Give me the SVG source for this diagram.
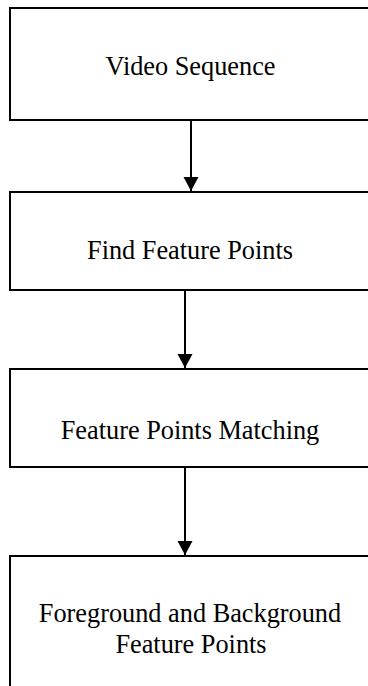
<svg xmlns="http://www.w3.org/2000/svg" width="368" height="686" viewBox="0 0 368 686">
<style>
.box{fill:#fff;stroke:#000;stroke-width:2}
.lbl{font-family:"Liberation Serif","Times New Roman",serif;font-size:26.3px;fill:#000;text-anchor:middle}
.conn{stroke:#000;stroke-width:2;fill:none}
</style>
<defs>
<marker id="ah" markerUnits="userSpaceOnUse" markerWidth="14" markerHeight="16" viewBox="0 0 14 16" refX="14" refY="8" orient="auto">
<path d="M0,0.5 L14,8 L0,15.5 z" fill="#000"/>
</marker>
</defs>
<rect width="368" height="686" fill="#fff"/>
<g id="n1">
<rect class="box" x="10" y="8" width="362" height="112"/>
<text class="lbl" x="190.5" y="75">Video Sequence</text>
</g>
<g id="n2">
<rect class="box" x="10" y="192" width="362" height="98"/>
<text class="lbl" x="190" y="259">Find Feature Points</text>
</g>
<g id="n3">
<rect class="box" x="10" y="369" width="362" height="98"/>
<text class="lbl" x="190" y="439">Feature Points Matching</text>
</g>
<g id="n4">
<rect class="box" x="10" y="556" width="362" height="140"/>
<text class="lbl" x="190" y="622">Foreground and Background</text>
<text class="lbl" x="191" y="653">Feature Points</text>
</g>
<g id="connectors">
<line class="conn" x1="191" y1="120" x2="191" y2="191" marker-end="url(#ah)"/>
<line class="conn" x1="185" y1="290" x2="185" y2="368" marker-end="url(#ah)"/>
<line class="conn" x1="185" y1="467" x2="185" y2="555" marker-end="url(#ah)"/>
</g>
</svg>
